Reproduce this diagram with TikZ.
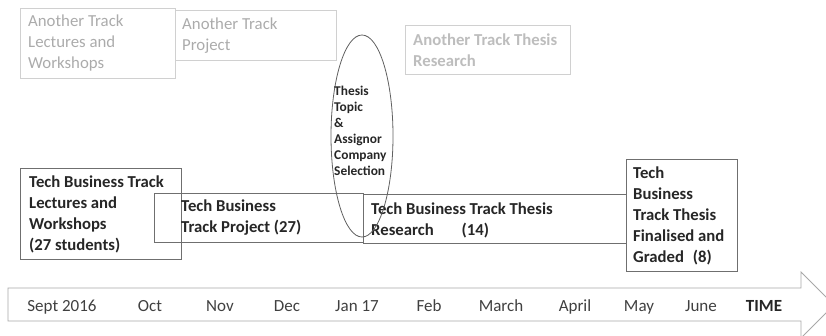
\documentclass[tikz,border=0pt]{standalone}
\usepackage{fontspec}
\setmainfont{Carlito}
\usetikzlibrary{shapes.geometric}
\definecolor{boxline}{HTML}{6F6F6F}
\definecolor{faintline}{HTML}{D0D0D0}
\definecolor{fainttxt}{HTML}{ABABAB}
\definecolor{faintbold}{HTML}{BDBDBD}
\definecolor{maintxt}{HTML}{262626}
\definecolor{monthtxt}{HTML}{404040}
\definecolor{arrowline}{HTML}{A8A8A8}
\definecolor{ovalline}{HTML}{606060}
\begin{document}
\begin{tikzpicture}[x=1pt,y=-1pt,
  frame/.style={draw=boxline, line width=0.8pt, rectangle, inner sep=0pt, anchor=north west},
  faintframe/.style={frame, draw=faintline},
  boxtext/.style={anchor=west, align=left, inner sep=0pt, text=maintxt,
    font=\fontsize{16.7}{21}\selectfont\bfseries},
  fainttext/.style={boxtext, text=fainttxt, font=\fontsize{16.8}{21}\selectfont},
  faintboldtext/.style={boxtext, text=faintbold, font=\fontsize{16.7}{21}\selectfont\bfseries},
  ovaltext/.style={anchor=west, align=left, inner sep=0pt, text=maintxt,
    font=\fontsize{13.4}{16}\selectfont\bfseries},
  month/.style={anchor=base, inner sep=0pt, text=monthtxt, font=\fontsize{17}{20}\selectfont},
]
\useasboundingbox (0,0) rectangle (826,335);
\clip (0,0) rectangle (826,335);

% time axis arrow
\draw[draw=arrowline, line width=0.8pt]
  (8,288) -- (801,288) -- (801,272) -- (834,305) -- (801,338) -- (801,321) -- (8,321) -- cycle;

% months along the axis
\node[month] (m1) at (62,311) {Sept 2016};
\node[month] (m2) at (150,311) {Oct};
\node[month] (m3) at (220,311) {Nov};
\node[month] (m4) at (287,311) {Dec};
\node[month] (m5) at (357,311) {Jan 17};
\node[month] (m6) at (429,311) {Feb};
\node[month] (m7) at (501,311) {March};
\node[month] (m8) at (575,311) {April};
\node[month] (m9) at (639,311) {May};
\node[month] (m10) at (701,311) {June};
\node[month, text=maintxt, font=\fontsize{17}{20}\selectfont\bfseries] (m11) at (764,311) {TIME};

% other track (faint)
\node[faintframe, minimum width=155pt, minimum height=70pt] (a1) at (20,8) {};
\node[fainttext] (a1t) at ([xshift=8pt]a1.west) {Another Track\\Lectures and\\Workshops};
\node[faintframe, minimum width=161pt, minimum height=50pt] (a2) at (175,10) {};
\node[fainttext] (a2t) at ([xshift=7pt]a2.west) {Another Track\\Project};
\node[faintframe, minimum width=165pt, minimum height=49pt] (a3) at (405,25) {};
\node[faintboldtext] (a3t) at ([xshift=8pt]a3.west) {Another Track Thesis\\Research};

% tech business track
\node[frame, minimum width=161pt, minimum height=91pt] (b1) at (20,168) {};
\node[boxtext] (b1t) at ([xshift=9pt]b1.west) {Tech Business Track\\Lectures and\\Workshops\\(27 students)};
\node[frame, minimum width=209pt, minimum height=49pt] (b2) at (154,193) {};
\node[boxtext] (b2t) at ([xshift=27pt]b2.west) {Tech Business\\Track Project (27)};
\node[frame, minimum width=263pt, minimum height=49pt] (b3) at (363,194) {};
\node[boxtext] (b3t) at ([xshift=8pt,yshift=-1pt]b3.west) {Tech Business Track Thesis\\Research\hspace{28pt}(14)};
\node[frame, minimum width=111pt, minimum height=112pt] (b4) at (626,159) {};
\node[boxtext] (b4t) at ([xshift=7pt]b4.west) {Tech\\Business\\Track Thesis\\Finalised and\\Graded\hspace{9pt}(8)};

% selection milestone
\node[draw=ovalline, line width=0.8pt, ellipse, inner sep=0pt,
  minimum width=62pt, minimum height=202pt] (sel) at (362,136) {};
\node[ovaltext] (selt) at (334,131) {Thesis\\Topic\\\&\\Assignor\\Company\\Selection};
\end{tikzpicture}
\end{document}
